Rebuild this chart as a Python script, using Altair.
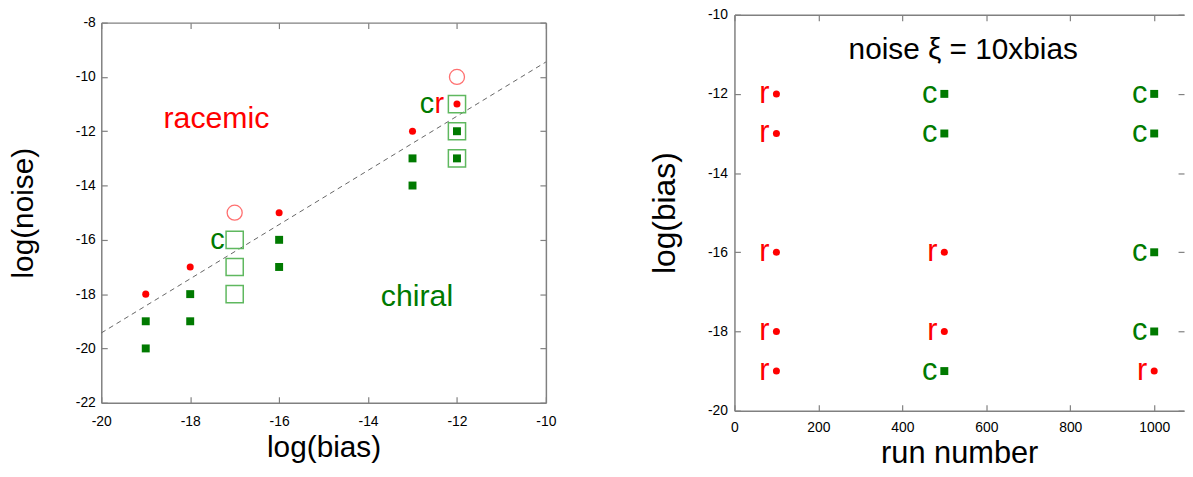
import altair as alt
import pandas as pd

FONT = "Liberation Sans"
RED = "#ff0000"
GREEN = "#007a00"
GRAY = "#808080"

# ---------------- left panel data ----------------
rac_x = [-19, -18, -16, -13, -12]
rac_y = [-18, -17, -15, -12, -11]
chi_x = [-19, -19, -18, -18, -16, -16, -13, -13, -12, -12]
chi_y = [-19, -20, -18, -19, -16, -17, -13, -14, -12, -13]
ocirc_x = [-17, -12]
ocirc_y = [-15, -10]
osq_x = [-17, -17, -17, -12, -12, -12]
osq_y = [-16, -17, -18, -11, -12, -13]
line_x = [-20, -10]
line_y = [-19.43, -9.45]
note_text = ["racemic", "chiral"]
note_x = [-17.41, -12.9]
note_y = [-11.55, -18.12]
note_color = [RED, GREEN]
left_xticks = [-20, -18, -16, -14, -12, -10]
left_yticks = [-22, -20, -18, -16, -14, -12, -10, -8]

# ---------------- right panel data ----------------
run_x = [100] * 5 + [500] * 5 + [1000] * 5
bias_y = [-12, -13, -16, -18, -19] * 3
state = ["r", "r", "r", "r", "r",
         "c", "c", "r", "r", "c",
         "c", "c", "c", "c", "r"]
right_xticks = [0, 200, 400, 600, 800, 1000]
right_yticks = [-20, -18, -16, -14, -12, -10]
title_text = ["noise \u03be = 10xbias"]
title_x = [545]
title_y = [-10.9]


def axis(orient, values, title=None, labels=True, label_pad=12, title_pad=10,
         title_size=30, domain=True):
    kw = dict(orient=orient, values=values, grid=False,
              tickSize={"expr": "-6"}, tickColor=GRAY, tickWidth=1.2,
              domain=domain, domainColor=GRAY, domainWidth=1.5,
              labels=labels, labelFont=FONT, labelFontSize=14,
              labelColor="black", labelFlush=False,
              labelPadding=label_pad, labelExpr="'' + datum.value",
              title=title)
    if title is not None:
        kw.update(titleFont=FONT, titleFontSize=title_size,
                  titleFontWeight="normal", titleColor="black",
                  titlePadding=title_pad)
    return alt.Axis(**kw)


lxs = alt.Scale(domain=[-20, -10], nice=False, zero=False)
lys = alt.Scale(domain=[-22, -8], nice=False, zero=False)

rac = pd.DataFrame({"x": rac_x, "y": rac_y})
chi = pd.DataFrame({"x": chi_x, "y": chi_y})
oc = pd.DataFrame({"x": ocirc_x, "y": ocirc_y})
osq = pd.DataFrame({"x": osq_x, "y": osq_y})
ln = pd.DataFrame({"x": line_x, "y": line_y})
notes = pd.DataFrame({"t": note_text, "x": note_x, "y": note_y, "col": note_color})
lab_c1 = pd.DataFrame({"x": [-17], "y": [-16]})
lab_c2 = pd.DataFrame({"x": [-12], "y": [-11]})
lab_r = pd.DataFrame({"x": [-12], "y": [-11]})

line_l = alt.Chart(ln).mark_line(color="#666666", strokeDash=[5, 4], strokeWidth=1).encode(
    x=alt.X("x:Q", scale=lxs, axis=axis("bottom", left_xticks, "log(bias)", label_pad=18, title_pad=4)),
    y=alt.Y("y:Q", scale=lys, axis=axis("left", left_yticks, "log(noise)", label_pad=12, title_pad=37)),
)
osq_l = alt.Chart(osq).mark_square(filled=False, size=300, color="#5fb85f", strokeWidth=1.5, opacity=1).encode(
    x="x:Q", y="y:Q")
oc_l = alt.Chart(oc).mark_circle(filled=False, size=230, color="#ff7070", strokeWidth=1.3, opacity=1).encode(
    x="x:Q", y="y:Q")
chi_l = alt.Chart(chi).mark_square(size=64, color=GREEN, opacity=1).encode(x="x:Q", y="y:Q")
rac_l = alt.Chart(rac).mark_circle(size=50, color=RED, opacity=1).encode(x="x:Q", y="y:Q")
notes_l = alt.Chart(notes).mark_text(font=FONT, fontSize=30.5, baseline="middle").encode(
    x="x:Q", y="y:Q", text="t:N", color=alt.Color("col:N", scale=None))
c1_l = alt.Chart(lab_c1).mark_text(font=FONT, fontSize=29, align="right", baseline="middle",
                                   color=GREEN, dx=-10).encode(x="x:Q", y="y:Q", text=alt.value("c"))
c2_l = alt.Chart(lab_c2).mark_text(font=FONT, fontSize=29, align="right", baseline="middle",
                                   color=GREEN, dx=-23).encode(x="x:Q", y="y:Q", text=alt.value("c"))
r_l = alt.Chart(lab_r).mark_text(font=FONT, fontSize=29, align="right", baseline="middle",
                                 color=RED, dx=-13).encode(x="x:Q", y="y:Q", text=alt.value("r"))

inner_left = alt.layer(line_l, osq_l, oc_l, chi_l, rac_l, notes_l, c1_l, c2_l, r_l)
frame_left = alt.Chart(rac).mark_point(opacity=0).encode(
    x=alt.X("x:Q", scale=lxs, axis=axis("top", left_xticks, labels=False)),
    y=alt.Y("y:Q", scale=lys, axis=axis("right", left_yticks, labels=False)),
)
left = alt.layer(inner_left, frame_left).resolve_axis(x="independent", y="independent").properties(
    width=448, height=383)

# small empty spacer that lowers the left panel relative to the right one
spacer = alt.Chart(pd.DataFrame({"a": [0]})).mark_point(opacity=0, size=1).encode(
    x=alt.value(0.5), y=alt.value(0.5)).properties(width=1, height=1)
left_col = alt.vconcat(spacer, left, spacing=0)

# ---------------- right panel ----------------
rxs = alt.Scale(domain=[0, 1071], nice=False, zero=False)
rys = alt.Scale(domain=[-20, -10], nice=False, zero=False)
runs = pd.DataFrame({"x": run_x, "y": bias_y, "s": state})
runs_r = runs[runs.s == "r"]
runs_c = runs[runs.s == "c"]
ttl = pd.DataFrame({"t": title_text, "x": title_x, "y": title_y})

dots = alt.Chart(runs_r).mark_circle(size=50, color=RED, opacity=1).encode(
    x=alt.X("x:Q", scale=rxs, axis=axis("bottom", right_xticks, "run number", label_pad=16, title_pad=4, title_size=31)),
    y=alt.Y("y:Q", scale=rys, axis=axis("left", right_yticks, "log(bias)", label_pad=13, title_pad=26, title_size=32)),
)
sqs = alt.Chart(runs_c).mark_square(size=64, color=GREEN, opacity=1).encode(x="x:Q", y="y:Q")
rtxt = alt.Chart(runs_r).mark_text(font=FONT, fontSize=31, align="right", baseline="middle",
                                   color=RED, dx=-7).encode(x="x:Q", y="y:Q", text="s:N")
ctxt = alt.Chart(runs_c).mark_text(font=FONT, fontSize=31, align="right", baseline="middle",
                                   color=GREEN, dx=-7).encode(x="x:Q", y="y:Q", text="s:N")
ttl_t = alt.Chart(ttl).mark_text(font=FONT, fontSize=30, baseline="middle", color="black").encode(
    x="x:Q", y="y:Q", text="t:N")
inner_right = alt.layer(dots, sqs, rtxt, ctxt, ttl_t)
frame_right = alt.Chart(runs_r).mark_point(opacity=0).encode(
    x=alt.X("x:Q", scale=rxs, axis=axis("top", right_xticks, labels=False)),
    y=alt.Y("y:Q", scale=rys, axis=axis("right", right_yticks, labels=False, domain=False)),
)
right = alt.layer(inner_right, frame_right).resolve_axis(x="independent", y="independent").properties(
    width=453, height=399)

chart = alt.hconcat(left_col, right, spacing=92).properties(
    padding={"left": 0, "top": -2, "right": 0, "bottom": -6}
).configure_view(strokeWidth=0)

chart.save("out.html", embed_options={"renderer": "svg", "actions": False})
